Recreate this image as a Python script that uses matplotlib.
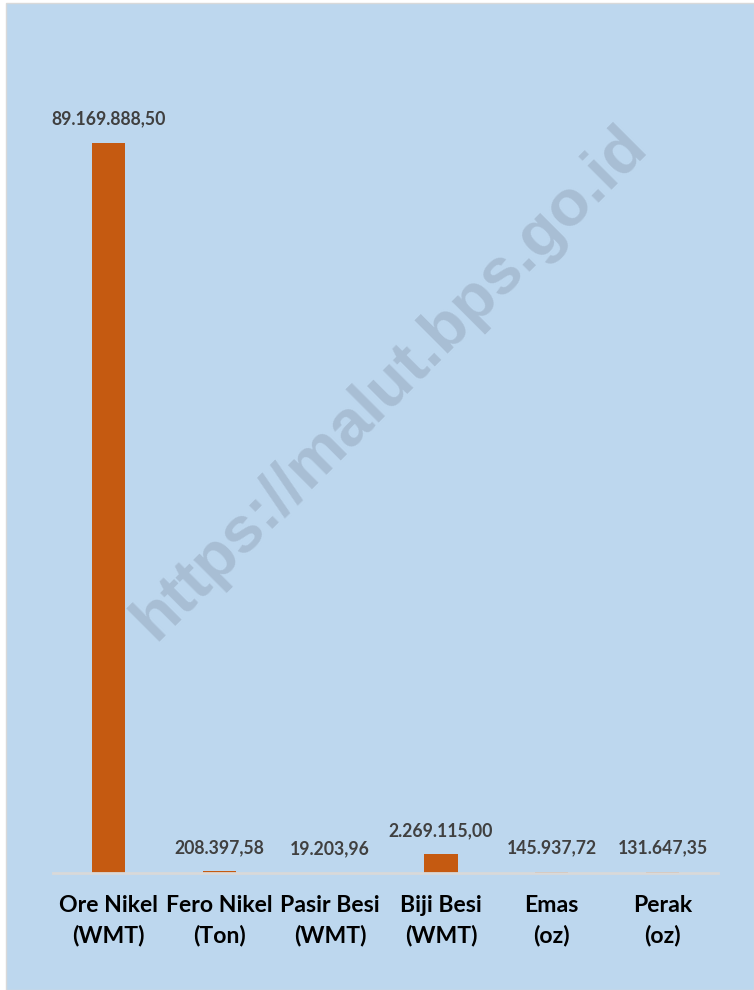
import matplotlib
matplotlib.use("Agg")
import matplotlib.pyplot as plt
from matplotlib.patches import Rectangle

categories = ["Ore Nikel\n(WMT)", "Fero Nikel\n(Ton)", "Pasir Besi\n(WMT)",
              "Biji Besi\n(WMT)", "Emas\n(oz)", "Perak\n(oz)"]
values = [89169888.50, 208397.58, 19203.96, 2269115.00, 145937.72, 131647.35]
value_labels = ["89.169.888,50", "208.397,58", "19.203,96",
                "2.269.115,00", "145.937,72", "131.647,35"]

bg = "#BDD7EE"
bar_color = "#C55A11"
label_font = ["Lato", "DejaVu Sans"]

fig = plt.figure(figsize=(7.54, 9.90), dpi=100, facecolor="white")
fig.patches.append(Rectangle((6 / 754, 0), 1 - 6 / 754, 1 - 3 / 990,
                             transform=fig.transFigure, facecolor=bg,
                             edgecolor="#D9D9D9", lw=1, zorder=-10))

# watermark
fig.text(390 / 754, 1 - 383 / 990, "https://malut.bps.go.id", rotation=45,
         ha="center", va="center", fontsize=47, fontweight="bold",
         color="#A8BED4", family=["Liberation Sans", "DejaVu Sans"], zorder=-5)

ax = fig.add_axes([53 / 754, 117 / 990, 665 / 754, 818.7 / 990])
ax.set_facecolor("none")
x = list(range(len(categories)))
ax.bar(x, values, width=0.3, color=bar_color, zorder=2)
ax.set_xlim(-0.5, len(categories) - 0.5)
ax.set_ylim(0, 1.0e8)

for xi, v, lab in zip(x, values, value_labels):
    ax.annotate(lab, (xi, v), xytext=(0, 11), textcoords="offset points",
                ha="center", va="bottom", fontsize=12.7, fontweight="bold",
                color="#404040", family=label_font)

for s in ["top", "right", "left"]:
    ax.spines[s].set_visible(False)
ax.spines["bottom"].set_color("#D9D9D9")
ax.spines["bottom"].set_linewidth(2)
ax.set_yticks([])
ax.set_xticks(x)
ax.set_xticklabels(categories, fontsize=16.6, fontweight="bold", color="black",
                   family=label_font, linespacing=1.5)
ax.tick_params(axis="x", length=0, pad=16)

fig.savefig("out.png", dpi=100, facecolor="white")
